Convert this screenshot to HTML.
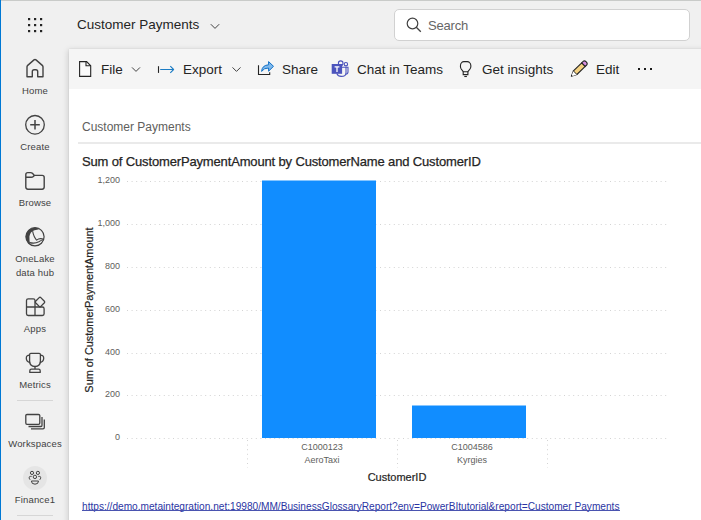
<!DOCTYPE html>
<html><head><meta charset="utf-8">
<style>
html,body{margin:0;padding:0;}
body{width:701px;height:520px;overflow:hidden;position:relative;background:#f0f0f0;font-family:"Liberation Sans",sans-serif;color:#242424;}
.a{position:absolute;white-space:nowrap;line-height:1;}
svg{position:absolute;overflow:visible;}
#topline{position:absolute;left:0;top:0;width:701px;height:1px;background:#c9cbc9;}
#leftline{position:absolute;left:0;top:0;width:1px;height:520px;background:#0078d4;}
.nav{font-size:9.5px;letter-spacing:0.15px;color:#424242;text-align:center;width:70px;left:0;}
#panel{position:absolute;left:69px;top:49px;width:640px;height:480px;background:#fff;box-shadow:-1px 1px 6px rgba(0,0,0,0.15),0 0 1.5px rgba(0,0,0,0.09);}
#toolbar{position:absolute;left:0;top:0;width:100%;height:40px;background:#f5f5f5;}
.tb{font-size:13.5px;color:#242424;}
</style></head><body>
<div id="topline"></div>
<div id="leftline"></div>

<!-- waffle -->
<svg style="left:0;top:0" width="70" height="48">
<g fill="#242424">
<rect x="28" y="18" width="2.2" height="2.2"/><rect x="34" y="18" width="2.2" height="2.2"/><rect x="40" y="18" width="2.2" height="2.2"/>
<rect x="28" y="24" width="2.2" height="2.2"/><rect x="34" y="24" width="2.2" height="2.2"/><rect x="40" y="24" width="2.2" height="2.2"/>
<rect x="28" y="30" width="2.2" height="2.2"/><rect x="34" y="30" width="2.2" height="2.2"/><rect x="40" y="30" width="2.2" height="2.2"/>
</g></svg>

<div class="a" id="hdrtitle" style="left:77px;top:17.5px;font-size:13.5px;color:#242424;">Customer Payments</div>
<svg style="left:0;top:0" width="701" height="48"><path d="M210.8 24.2 L215 28.4 L219.2 24.2" fill="none" stroke="#424242" stroke-width="1"/></svg>

<!-- search -->
<div style="position:absolute;left:394px;top:9px;width:294px;height:30px;background:#fff;border:1px solid #d1d1d1;border-radius:5px;"></div>
<svg style="left:0;top:0" width="701" height="48"><circle cx="412.5" cy="23.5" r="5.3" fill="none" stroke="#424242" stroke-width="1.2"/><path d="M416.3 27.3 L420.8 31.8" stroke="#424242" stroke-width="1.3"/></svg>
<div class="a" id="search" style="left:428px;top:18.5px;font-size:13px;letter-spacing:-0.2px;color:#666666;">Search</div>

<!-- sidebar -->
<div class="a nav" style="top:86px;">Home</div>
<div class="a nav" style="top:142px;">Create</div>
<div class="a nav" style="top:198px;">Browse</div>
<div class="a nav" style="top:254px;">OneLake</div>
<div class="a nav" style="top:268px;">data hub</div>
<div class="a nav" style="top:324px;">Apps</div>
<div class="a nav" style="top:380px;">Metrics</div>
<div class="a nav" style="top:439px;">Workspaces</div>
<div class="a nav" style="top:495px;">Finance1</div>
<div style="position:absolute;left:17px;top:400px;width:36px;height:1px;background:#d6d6d6;"></div>
<div style="position:absolute;left:17px;top:515px;width:36px;height:1px;background:#d6d6d6;"></div>

<svg style="left:0;top:0" width="70" height="520" fill="none" stroke="#424242" stroke-width="1.3" stroke-linejoin="round">
<!-- home -->
<path d="M27 76.7 V66.8 Q27 66 27.7 65.4 L34 59.9 Q35 59.1 36 59.9 L42.3 65.4 Q43 66 43 66.8 V76.7 H37.7 V71.6 Q37.7 69.8 35.9 69.8 H34.1 Q32.3 69.8 32.3 71.6 V76.7 Z" stroke-width="1.4"/>
<!-- create -->
<circle cx="35" cy="124.8" r="9.3"/>
<path d="M35 120 V129.6 M30.2 124.8 H39.8" stroke-width="1.5"/>
<!-- browse -->
<path d="M25.8 174.6 Q25.8 172.6 27.8 172.6 H30.6 Q31.7 172.6 32.4 173.3 L34.4 175.4 H42.1 Q44.2 175.4 44.2 177.5 V187.1 Q44.2 189.2 42.1 189.2 H27.9 Q25.8 189.2 25.8 187.1 Z M25.8 177.3 H31.2 Q32.5 177.3 33.3 176.5 L34.4 175.4" stroke-width="1.4"/>
<!-- apps -->
<path d="M26.5 300.5 Q26.5 298.8 28.2 298.8 H33.3 Q35 298.8 35 300.5 V307 H26.5 Z M26.5 307 H35 V315.5 H28.2 Q26.5 315.5 26.5 313.8 Z M35 307 H42.4 Q44.1 307 44.1 308.7 V313.8 Q44.1 315.5 42.4 315.5 H35 Z"/>
<path d="M39.2 297.6 Q40 296.9 40.8 297.6 L44.4 301.2 Q45.1 302 44.4 302.8 L40.8 306.4 Q40 307.1 39.2 306.4 L35.6 302.8 Q34.9 302 35.6 301.2 Z"/>
<!-- metrics -->
<path d="M29.6 354.6 Q29.6 353.4 30.8 353.4 H39.2 Q40.4 353.4 40.4 354.6 V361 Q40.4 366.3 35 366.5 Q29.6 366.3 29.6 361 Z"/>
<path d="M29.6 355.2 Q26.3 355.2 26.3 358.2 Q26.3 361.6 30.2 362.6 M40.4 355.2 Q43.7 355.2 43.7 358.2 Q43.7 361.6 39.8 362.6"/>
<path d="M35 366.5 V369.2 M29.8 372.4 V370.8 Q29.8 369.2 31.4 369.2 H38.6 Q40.2 369.2 40.2 370.8 V372.4 Z"/>
<!-- workspaces -->
<path d="M25.8 415.5 Q25.8 414.5 27 414.5 H38.5 Q39.8 414.5 39.8 415.5 V423 Q39.8 424.3 38.5 424.3 H27 Q25.8 424.3 25.8 423 Z"/>
<path d="M28.5 426.5 H41 Q42 426.5 42 425.3 V417" />
<path d="M31 428.8 H43 Q44.3 428.8 44.3 427.5 V419.5" />
</svg>
<!-- onelake -->
<svg style="left:0;top:0" width="70" height="520" fill="none" stroke="#424242">
<circle cx="35" cy="236.8" r="9.1" stroke-width="1.2"/>
<path d="M39.6 228.9 A9.1 9.1 0 0 0 30.4 244.7 Q29.2 240.5 29.4 236.5 Q30 231.8 34.5 230.2 Q37.3 229.5 39.6 228.9 Z" fill="#424242" stroke="none"/>
<path d="M32.6 231.2 Q33.8 237.2 36.6 240.1 Q39.8 237.6 44 239.5" stroke-width="1.1"/>
<path d="M29.8 242.6 Q34.8 243.9 38.8 241.7 Q41.2 240.2 44 239.5" stroke-width="1.1"/>
</svg>
<!-- finance1 -->
<div style="position:absolute;left:23px;top:466px;width:24px;height:24px;border-radius:50%;background:#e5e5e5;"></div>
<svg style="left:0;top:0" width="70" height="520" fill="none" stroke="#424242" stroke-width="1">
<circle cx="32" cy="472.9" r="1.6"/><circle cx="37.9" cy="472.9" r="1.6"/><circle cx="34.9" cy="476.9" r="1.7"/>
<path d="M31.6 476.4 H30.4 Q29.2 476.4 29.2 477.6 Q29.2 479 30.2 479.8"/>
<path d="M38.3 476.4 H39.5 Q40.7 476.4 40.7 477.6 Q40.7 479 39.7 479.8"/>
<path d="M31.4 481 H38.5 Q38.5 484.2 35 484.2 Q31.4 484.2 31.4 481 Z"/>
</svg>
<!-- panel -->
<div id="panel">
  <div id="toolbar"></div>
</div>

<!-- toolbar content -->
<svg style="left:0;top:0" width="701" height="100" fill="none" stroke="#242424" stroke-width="1.1" stroke-linejoin="miter">
<!-- file -->
<path d="M79.6 61.6 H86.6 L90.7 65.8 V76.4 H79.6 Z" fill="#fafafa"/>
<path d="M86 61.6 V65.8 H90.7"/>
<path d="M132 67.4 L136 71.4 L140 67.4" stroke="#424242" stroke-width="1"/>
<!-- export -->
<path d="M158.5 66.2 V72.9" stroke="#242424" stroke-width="1.1"/>
<path d="M160.2 69.5 H173.6 M170.3 66.2 L173.6 69.5 L170.3 72.8" stroke="#1c7cc4" stroke-width="1.1" stroke-linejoin="round"/>
<path d="M232.5 67.4 L236.5 71.4 L240.5 67.4" stroke="#424242" stroke-width="1"/>
<!-- share -->
<path d="M258.5 65.3 V74.5 H269.7 V72.3" stroke="#242424" stroke-width="1.1"/>
<path d="M261.6 71.4 Q262 65.2 268.6 64.8 V61.6 L273.5 66.3 L268.6 71.2 V68 Q264 67.8 261.6 71.4 Z" fill="#7fb9ec" stroke="#1170c6" stroke-width="1" stroke-linejoin="round"/>
<!-- lightbulb -->
<path d="M463.2 71.7 L461.2 69 Q460.4 67.8 460.4 66 Q460.4 63.5 461.8 62.4 Q462.6 61.6 463.8 61.6 H467.3 Q468.6 61.6 469.4 62.4 Q470.9 63.6 470.9 66 Q470.9 67.8 470 69 L467.9 71.7 Z" stroke-linejoin="round"/>
<path d="M463.2 71.7 V74.6 H467.9 V71.7" />
<path d="M464.3 76.5 H466.9" stroke-width="1.1"/>
</svg>
<svg style="left:0;top:0" width="701" height="100">
<!-- teams -->
<circle cx="340.7" cy="63.2" r="2.3" fill="none" stroke="#4b53bc" stroke-width="1.1"/>
<circle cx="345.9" cy="64.2" r="1.7" fill="none" stroke="#4b53bc" stroke-width="1.1"/>
<path d="M342 67.2 H346 V73 Q346 76.4 341.2 76.4 Q338 76.4 336.8 73.5" fill="none" stroke="#4b53bc" stroke-width="1.1"/>
<path d="M346 67.2 H348 V72 Q348 74 345.5 74.2" fill="none" stroke="#4b53bc" stroke-width="1.1"/>
<rect x="331.7" y="64" width="10.4" height="9.8" fill="#4b53bc"/>
<path d="M334.6 66.8 H339.4 M337 66.8 V72" stroke="#fff" stroke-width="1.3"/>
<!-- pencil -->
<g transform="translate(571.4 76.3) rotate(-44)">
<path d="M0 0 L5.2 -2.5 H16.8 V2.5 H5.2 Z" fill="#f5d282" stroke="#242424" stroke-width="1.1" stroke-linejoin="round"/>
<path d="M1.2 -0.6 L5.2 -2.5 V2.5 L1.2 0.6 Z" fill="#fff"/>
<path d="M16.8 -2.5 H18.8 Q20.6 -2.5 20.6 0 Q20.6 2.5 18.8 2.5 H16.8 Z" fill="#d98ee0" stroke="#242424" stroke-width="1.1"/>
<path d="M5.2 -2.5 V2.5" stroke="#242424" stroke-width="0.9"/>
</g>
<rect x="638" y="68" width="2" height="2" fill="#1a1a1a"/><rect x="644" y="68" width="2" height="2" fill="#1a1a1a"/><rect x="650" y="68" width="2" height="2" fill="#1a1a1a"/>
</svg>
<div class="a tb" style="left:101px;top:62.5px;">File</div>
<div class="a tb" style="left:183px;top:62.5px;">Export</div>
<div class="a tb" style="left:282px;top:62.5px;">Share</div>
<div class="a tb" style="left:357px;top:62.5px;">Chat in Teams</div>
<div class="a tb" style="left:482px;top:62.5px;">Get insights</div>
<div class="a tb" style="left:596px;top:62.5px;">Edit</div>

<!-- content -->
<div class="a" id="ptitle" style="left:82px;top:121px;font-size:12px;color:#605e5c;">Customer Payments</div>
<div style="position:absolute;left:78px;top:142px;width:623px;height:2px;background:#eaeaea;"></div>
<div class="a" id="ctitle" style="left:82px;top:155px;font-size:13px;letter-spacing:-0.15px;-webkit-text-stroke:0.25px #252423;color:#252423;">Sum of CustomerPaymentAmount by CustomerName and CustomerID</div>

<svg style="left:0;top:0" width="701" height="520">
<g stroke="#d3d3d3" stroke-width="1" stroke-dasharray="1 3.6">
<path d="M127 181.5 H667 M127 224.5 H667 M127 267.5 H667 M127 310.5 H667 M127 353.5 H667 M127 395.5 H667 M127 438.5 H667"/>
<path d="M247.5 440 V468 M397.5 440 V468 M547.5 440 V468"/>
</g>
<rect x="262" y="180.5" width="114" height="257.5" fill="#118dff"/>
<rect x="412" y="405.5" width="114" height="32.5" fill="#118dff"/>
</svg>
<div class="a" style="left:60px;top:176px;width:60px;text-align:right;font-size:9px;color:#605e5c;">1,200</div>
<div class="a" style="left:60px;top:219px;width:60px;text-align:right;font-size:9px;color:#605e5c;">1,000</div>
<div class="a" style="left:60px;top:262px;width:60px;text-align:right;font-size:9px;color:#605e5c;">800</div>
<div class="a" style="left:60px;top:305px;width:60px;text-align:right;font-size:9px;color:#605e5c;">600</div>
<div class="a" style="left:60px;top:348px;width:60px;text-align:right;font-size:9px;color:#605e5c;">400</div>
<div class="a" style="left:60px;top:390px;width:60px;text-align:right;font-size:9px;color:#605e5c;">200</div>
<div class="a" style="left:60px;top:433px;width:60px;text-align:right;font-size:9px;color:#605e5c;">0</div>

<div class="a" style="left:272px;top:442.5px;width:100px;text-align:center;font-size:9px;color:#605e5c;">C1000123</div>
<div class="a" style="left:272px;top:455.5px;width:100px;text-align:center;font-size:9px;color:#605e5c;">AeroTaxi</div>
<div class="a" style="left:422px;top:442.5px;width:100px;text-align:center;font-size:9px;color:#605e5c;">C1004586</div>
<div class="a" style="left:422px;top:455.5px;width:100px;text-align:center;font-size:9px;color:#605e5c;">Kyrgies</div>
<div class="a" id="xtitle" style="left:347px;top:471.5px;width:100px;text-align:center;font-size:11px;color:#252423;-webkit-text-stroke:0.2px #252423;">CustomerID</div>
<div class="a" id="ytitle" style="left:88.5px;top:309.5px;font-size:10.9px;color:#252423;-webkit-text-stroke:0.2px #252423;transform:translate(-50%,-50%) rotate(-90deg);">Sum of CustomerPaymentAmount</div>

<div class="a" id="link" style="left:82px;top:502px;font-size:10.15px;color:#2b35a3;">https://demo.metaintegration.net:19980/MM/BusinessGlossaryReport?env=PowerBItutorial&amp;report=Customer Payments</div>
<div style="position:absolute;left:82px;top:510px;width:538px;height:1px;background:#4a54b0;"></div>
</body></html>
